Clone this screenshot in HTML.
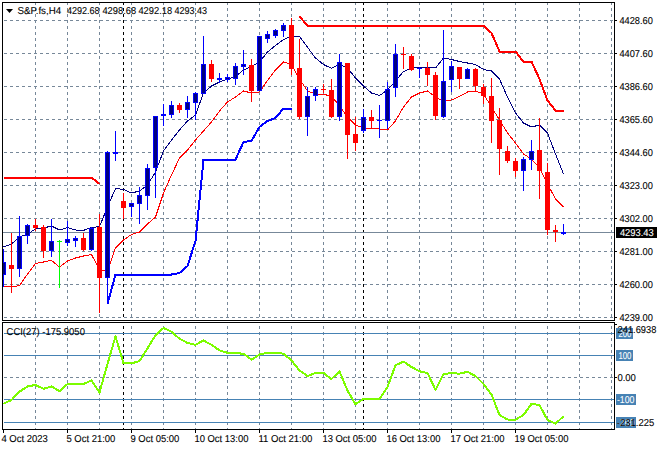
<!DOCTYPE html><html><head><meta charset="utf-8"><style>html,body{margin:0;padding:0;background:#fff;}svg{display:block;}text{font-family:"Liberation Sans",sans-serif;}</style></head><body>
<svg width="660" height="450" viewBox="0 0 660 450">
<rect x="0" y="0" width="660" height="450" fill="#fff"/>
<defs><clipPath id="cm"><rect x="3" y="3" width="611" height="317"/></clipPath><clipPath id="cs"><rect x="3" y="323" width="611" height="106"/></clipPath></defs>
<g shape-rendering="crispEdges">
<line x1="3" y1="20.5" x2="614" y2="20.5" stroke="#778899" stroke-width="1" stroke-dasharray="3 3" stroke-dashoffset="-1"/>
<line x1="3" y1="53.5" x2="614" y2="53.5" stroke="#778899" stroke-width="1" stroke-dasharray="3 3" stroke-dashoffset="-1"/>
<line x1="3" y1="86.5" x2="614" y2="86.5" stroke="#778899" stroke-width="1" stroke-dasharray="3 3" stroke-dashoffset="-1"/>
<line x1="3" y1="119.5" x2="614" y2="119.5" stroke="#778899" stroke-width="1" stroke-dasharray="3 3" stroke-dashoffset="-1"/>
<line x1="3" y1="152.5" x2="614" y2="152.5" stroke="#778899" stroke-width="1" stroke-dasharray="3 3" stroke-dashoffset="-1"/>
<line x1="3" y1="185.5" x2="614" y2="185.5" stroke="#778899" stroke-width="1" stroke-dasharray="3 3" stroke-dashoffset="-1"/>
<line x1="3" y1="218.5" x2="614" y2="218.5" stroke="#778899" stroke-width="1" stroke-dasharray="3 3" stroke-dashoffset="-1"/>
<line x1="3" y1="251.5" x2="614" y2="251.5" stroke="#778899" stroke-width="1" stroke-dasharray="3 3" stroke-dashoffset="-1"/>
<line x1="3" y1="284.5" x2="614" y2="284.5" stroke="#778899" stroke-width="1" stroke-dasharray="3 3" stroke-dashoffset="-1"/>
<line x1="3" y1="317.5" x2="614" y2="317.5" stroke="#778899" stroke-width="1" stroke-dasharray="3 3" stroke-dashoffset="-1"/>
<line x1="35.5" y1="2" x2="35.5" y2="320" stroke="#778899" stroke-width="1" stroke-dasharray="3 3"/>
<line x1="67.5" y1="2" x2="67.5" y2="320" stroke="#778899" stroke-width="1" stroke-dasharray="3 3"/>
<line x1="99.5" y1="2" x2="99.5" y2="320" stroke="#778899" stroke-width="1" stroke-dasharray="3 3"/>
<line x1="131.5" y1="2" x2="131.5" y2="320" stroke="#778899" stroke-width="1" stroke-dasharray="3 3"/>
<line x1="163.5" y1="2" x2="163.5" y2="320" stroke="#778899" stroke-width="1" stroke-dasharray="3 3"/>
<line x1="195.5" y1="2" x2="195.5" y2="320" stroke="#778899" stroke-width="1" stroke-dasharray="3 3"/>
<line x1="227.5" y1="2" x2="227.5" y2="320" stroke="#778899" stroke-width="1" stroke-dasharray="3 3"/>
<line x1="259.5" y1="2" x2="259.5" y2="320" stroke="#778899" stroke-width="1" stroke-dasharray="3 3"/>
<line x1="291.5" y1="2" x2="291.5" y2="320" stroke="#778899" stroke-width="1" stroke-dasharray="3 3"/>
<line x1="323.5" y1="2" x2="323.5" y2="320" stroke="#778899" stroke-width="1" stroke-dasharray="3 3"/>
<line x1="355.5" y1="2" x2="355.5" y2="320" stroke="#778899" stroke-width="1" stroke-dasharray="3 3"/>
<line x1="387.5" y1="2" x2="387.5" y2="320" stroke="#778899" stroke-width="1" stroke-dasharray="3 3"/>
<line x1="419.5" y1="2" x2="419.5" y2="320" stroke="#778899" stroke-width="1" stroke-dasharray="3 3"/>
<line x1="451.5" y1="2" x2="451.5" y2="320" stroke="#778899" stroke-width="1" stroke-dasharray="3 3"/>
<line x1="483.5" y1="2" x2="483.5" y2="320" stroke="#778899" stroke-width="1" stroke-dasharray="3 3"/>
<line x1="515.5" y1="2" x2="515.5" y2="320" stroke="#778899" stroke-width="1" stroke-dasharray="3 3"/>
<line x1="547.5" y1="2" x2="547.5" y2="320" stroke="#778899" stroke-width="1" stroke-dasharray="3 3"/>
<line x1="579.5" y1="2" x2="579.5" y2="320" stroke="#778899" stroke-width="1" stroke-dasharray="3 3"/>
<line x1="611.5" y1="2" x2="611.5" y2="320" stroke="#778899" stroke-width="1" stroke-dasharray="3 3"/>
<line x1="35.5" y1="322" x2="35.5" y2="429" stroke="#778899" stroke-width="1" stroke-dasharray="3 3" stroke-dashoffset="2"/>
<line x1="67.5" y1="322" x2="67.5" y2="429" stroke="#778899" stroke-width="1" stroke-dasharray="3 3" stroke-dashoffset="2"/>
<line x1="99.5" y1="322" x2="99.5" y2="429" stroke="#778899" stroke-width="1" stroke-dasharray="3 3" stroke-dashoffset="2"/>
<line x1="131.5" y1="322" x2="131.5" y2="429" stroke="#778899" stroke-width="1" stroke-dasharray="3 3" stroke-dashoffset="2"/>
<line x1="163.5" y1="322" x2="163.5" y2="429" stroke="#778899" stroke-width="1" stroke-dasharray="3 3" stroke-dashoffset="2"/>
<line x1="195.5" y1="322" x2="195.5" y2="429" stroke="#778899" stroke-width="1" stroke-dasharray="3 3" stroke-dashoffset="2"/>
<line x1="227.5" y1="322" x2="227.5" y2="429" stroke="#778899" stroke-width="1" stroke-dasharray="3 3" stroke-dashoffset="2"/>
<line x1="259.5" y1="322" x2="259.5" y2="429" stroke="#778899" stroke-width="1" stroke-dasharray="3 3" stroke-dashoffset="2"/>
<line x1="291.5" y1="322" x2="291.5" y2="429" stroke="#778899" stroke-width="1" stroke-dasharray="3 3" stroke-dashoffset="2"/>
<line x1="323.5" y1="322" x2="323.5" y2="429" stroke="#778899" stroke-width="1" stroke-dasharray="3 3" stroke-dashoffset="2"/>
<line x1="355.5" y1="322" x2="355.5" y2="429" stroke="#778899" stroke-width="1" stroke-dasharray="3 3" stroke-dashoffset="2"/>
<line x1="387.5" y1="322" x2="387.5" y2="429" stroke="#778899" stroke-width="1" stroke-dasharray="3 3" stroke-dashoffset="2"/>
<line x1="419.5" y1="322" x2="419.5" y2="429" stroke="#778899" stroke-width="1" stroke-dasharray="3 3" stroke-dashoffset="2"/>
<line x1="451.5" y1="322" x2="451.5" y2="429" stroke="#778899" stroke-width="1" stroke-dasharray="3 3" stroke-dashoffset="2"/>
<line x1="483.5" y1="322" x2="483.5" y2="429" stroke="#778899" stroke-width="1" stroke-dasharray="3 3" stroke-dashoffset="2"/>
<line x1="515.5" y1="322" x2="515.5" y2="429" stroke="#778899" stroke-width="1" stroke-dasharray="3 3" stroke-dashoffset="2"/>
<line x1="547.5" y1="322" x2="547.5" y2="429" stroke="#778899" stroke-width="1" stroke-dasharray="3 3" stroke-dashoffset="2"/>
<line x1="579.5" y1="322" x2="579.5" y2="429" stroke="#778899" stroke-width="1" stroke-dasharray="3 3" stroke-dashoffset="2"/>
<line x1="611.5" y1="322" x2="611.5" y2="429" stroke="#778899" stroke-width="1" stroke-dasharray="3 3" stroke-dashoffset="2"/>
<line x1="3" y1="377.5" x2="614" y2="377.5" stroke="#778899" stroke-width="1" stroke-dasharray="3 3" stroke-dashoffset="-1"/>
<line x1="123.5" y1="2" x2="123.5" y2="320" stroke="#000" stroke-width="1" stroke-dasharray="3 3"/>
<line x1="123.5" y1="322" x2="123.5" y2="429" stroke="#000" stroke-width="1" stroke-dasharray="3 3" stroke-dashoffset="2"/>
<line x1="363.5" y1="2" x2="363.5" y2="320" stroke="#000" stroke-width="1" stroke-dasharray="3 3"/>
<line x1="363.5" y1="322" x2="363.5" y2="429" stroke="#000" stroke-width="1" stroke-dasharray="3 3" stroke-dashoffset="2"/>
<rect x="4" y="333" width="610" height="1" fill="#4682B4"/>
<rect x="4" y="355" width="610" height="1" fill="#4682B4"/>
<rect x="4" y="399" width="610" height="1" fill="#4682B4"/>
<rect x="4" y="422" width="610" height="1" fill="#4682B4"/>
<rect x="3" y="232" width="611" height="1" fill="#778899"/>
</g>
<g clip-path="url(#cm)">
<polyline points="3.5,286 11.5,287 19.5,285.6 27.5,274 35.5,263.6 43.5,262 51.5,260.4 59.5,267 67.5,261 75.5,258 83.5,256 91.5,254.5 99.5,270 107.5,271 115.5,248 123.5,240 131.5,234.5 139.5,232 147.5,224 155.5,217 163.5,193 171.5,175 179.5,158 187.5,150 195.5,140 203.5,131 211.5,122 219.5,111 227.5,102 235.5,97 243.5,91 251.5,93 259.5,92 267.5,80.5 275.5,70 283.5,62 291.5,64.5 299.5,79 307.5,91 315.5,94 323.5,94.4 331.5,96 339.5,106 347.5,117 355.5,125 363.5,128 371.5,128 379.5,129 387.5,130 395.5,121 403.5,107 411.5,97 419.5,93 427.5,91 435.5,97 443.5,101.5 451.5,100 459.5,96.5 467.5,92 475.5,91 483.5,94 491.5,107 499.5,120 507.5,133 515.5,143 523.5,154 531.5,159 539.5,168 547.5,184 555.5,199 563.5,207" fill="none" stroke="#FF0000" stroke-width="1" stroke-linejoin="round" shape-rendering="crispEdges"/>
<polyline points="3.5,247 11.5,244 19.5,237 27.5,234 35.5,229 43.5,228 51.5,226 59.5,230 67.5,227.6 75.5,230 83.5,230.4 91.5,227.5 99.5,226.7 107.5,207 115.5,188.5 123.5,189.5 131.5,193 139.5,191 147.5,185 155.5,172 163.5,151 171.5,140 179.5,130 187.5,121 195.5,115 203.5,93 211.5,86 219.5,82 227.5,79 235.5,76.5 243.5,70 251.5,66.5 259.5,62 267.5,52 275.5,45.5 283.5,39.5 291.5,36 299.5,36.5 307.5,47.3 315.5,58 323.5,64.5 331.5,68.4 339.5,64.2 347.5,68 355.5,78 363.5,86 371.5,93 379.5,95.6 387.5,90 395.5,81 403.5,71.5 411.5,68 419.5,67.3 427.5,67.5 435.5,68 443.5,58 451.5,59.5 459.5,61.5 467.5,63 475.5,64.5 483.5,69.5 491.5,71 499.5,79 507.5,97 515.5,113 523.5,123 531.5,127 539.5,125 547.5,133 555.5,154 563.5,174" fill="none" stroke="#000080" stroke-width="1" stroke-linejoin="round" shape-rendering="crispEdges"/>
<polyline points="107.5,304 115.5,274.5 123.5,274.5 131.5,274.5 139.5,274.5 147.5,274.5 155.5,274.5 163.5,274.5 171.5,274.5 179.5,273 187.5,266 195.5,241 203.5,159.5 211.5,159.5 219.5,159.5 227.5,159.5 235.5,159.5 243.5,142 251.5,141 259.5,127 267.5,121 275.5,118 283.5,108.5 291.5,108.5" fill="none" stroke="#0000FF" stroke-width="2" stroke-linejoin="round" shape-rendering="crispEdges"/>
<polyline points="3.5,177.5 11.5,177.5 19.5,177.5 27.5,177.5 35.5,177.5 43.5,177.5 51.5,177.5 59.5,177.5 67.5,177.5 75.5,177.5 83.5,177.5 91.5,177.5 99.5,184" fill="none" stroke="#FF0000" stroke-width="2" stroke-linejoin="round" shape-rendering="crispEdges"/>
<polyline points="299.5,16.5 307.5,25.7 315.5,25.7 323.5,25.7 331.5,25.7 339.5,25.7 347.5,25.7 355.5,25.7 363.5,25.7 371.5,25.7 379.5,25.7 387.5,25.7 395.5,25.7 403.5,25.7 411.5,25.7 419.5,25.7 427.5,25.7 435.5,25.7 443.5,25.7 451.5,25.7 459.5,25.7 467.5,25.7 475.5,25.7 483.5,25.7 491.5,33 499.5,51.5 507.5,51.5 515.5,51.5 523.5,61.7 531.5,61.7 539.5,79 547.5,100.5 555.5,110.6 563.5,110.6" fill="none" stroke="#FF0000" stroke-width="2" stroke-linejoin="round" shape-rendering="crispEdges"/>
<g shape-rendering="crispEdges">
<rect x="3" y="249" width="1" height="38" fill="#0000FF"/>
<rect x="1" y="262" width="5" height="13" fill="#0000FF"/>
<rect x="2" y="263" width="3" height="11" fill="#000080"/>
<rect x="11" y="233" width="1" height="60" fill="#FF0000"/>
<rect x="9" y="265" width="5" height="4" fill="#FF0000"/>
<rect x="19" y="216" width="1" height="61" fill="#0000FF"/>
<rect x="17" y="236" width="5" height="33" fill="#0000FF"/>
<rect x="18" y="237" width="3" height="31" fill="#000080"/>
<rect x="27" y="224" width="1" height="20" fill="#0000FF"/>
<rect x="25" y="225" width="5" height="11" fill="#0000FF"/>
<rect x="26" y="226" width="3" height="9" fill="#000080"/>
<rect x="35" y="219" width="1" height="12" fill="#FF0000"/>
<rect x="33" y="225" width="5" height="3" fill="#FF0000"/>
<rect x="43" y="225" width="1" height="33" fill="#FF0000"/>
<rect x="41" y="227" width="5" height="24" fill="#FF0000"/>
<rect x="51" y="219" width="1" height="38" fill="#0000FF"/>
<rect x="49" y="241" width="5" height="10" fill="#0000FF"/>
<rect x="50" y="242" width="3" height="8" fill="#000080"/>
<rect x="59" y="240" width="1" height="48" fill="#00FF00"/>
<rect x="57" y="241" width="5" height="1" fill="#00FF00"/>
<rect x="67" y="221" width="1" height="25" fill="#0000FF"/>
<rect x="65" y="239" width="5" height="4" fill="#0000FF"/>
<rect x="66" y="240" width="3" height="2" fill="#000080"/>
<rect x="75" y="236" width="1" height="11" fill="#0000FF"/>
<rect x="73" y="238" width="5" height="3" fill="#0000FF"/>
<rect x="74" y="239" width="3" height="1" fill="#000080"/>
<rect x="83" y="233" width="1" height="18" fill="#FF0000"/>
<rect x="81" y="238" width="5" height="12" fill="#FF0000"/>
<rect x="91" y="227" width="1" height="24" fill="#0000FF"/>
<rect x="89" y="228" width="5" height="22" fill="#0000FF"/>
<rect x="90" y="229" width="3" height="20" fill="#000080"/>
<rect x="99" y="214" width="1" height="99" fill="#FF0000"/>
<rect x="97" y="227" width="5" height="51" fill="#FF0000"/>
<rect x="107" y="151" width="1" height="149" fill="#0000FF"/>
<rect x="105" y="152" width="5" height="126" fill="#0000FF"/>
<rect x="106" y="153" width="3" height="124" fill="#000080"/>
<rect x="115" y="131" width="1" height="30" fill="#0000FF"/>
<rect x="113" y="152" width="5" height="2" fill="#0000FF"/>
<rect x="123" y="193" width="1" height="26" fill="#FF0000"/>
<rect x="121" y="201" width="5" height="7" fill="#FF0000"/>
<rect x="131" y="203" width="1" height="14" fill="#0000FF"/>
<rect x="129" y="203" width="5" height="4" fill="#0000FF"/>
<rect x="130" y="204" width="3" height="2" fill="#000080"/>
<rect x="139" y="187" width="1" height="37" fill="#0000FF"/>
<rect x="137" y="195" width="5" height="9" fill="#0000FF"/>
<rect x="138" y="196" width="3" height="7" fill="#000080"/>
<rect x="147" y="164" width="1" height="46" fill="#0000FF"/>
<rect x="145" y="168" width="5" height="28" fill="#0000FF"/>
<rect x="146" y="169" width="3" height="26" fill="#000080"/>
<rect x="155" y="116" width="1" height="82" fill="#0000FF"/>
<rect x="153" y="116" width="5" height="52" fill="#0000FF"/>
<rect x="154" y="117" width="3" height="50" fill="#000080"/>
<rect x="163" y="104" width="1" height="22" fill="#0000FF"/>
<rect x="161" y="114" width="5" height="2" fill="#0000FF"/>
<rect x="171" y="101" width="1" height="17" fill="#0000FF"/>
<rect x="169" y="105" width="5" height="10" fill="#0000FF"/>
<rect x="170" y="106" width="3" height="8" fill="#000080"/>
<rect x="179" y="103" width="1" height="10" fill="#FF0000"/>
<rect x="177" y="105" width="5" height="5" fill="#FF0000"/>
<rect x="187" y="96" width="1" height="22" fill="#0000FF"/>
<rect x="185" y="102" width="5" height="8" fill="#0000FF"/>
<rect x="186" y="103" width="3" height="6" fill="#000080"/>
<rect x="195" y="92" width="1" height="28" fill="#0000FF"/>
<rect x="193" y="93" width="5" height="10" fill="#0000FF"/>
<rect x="194" y="94" width="3" height="8" fill="#000080"/>
<rect x="203" y="36" width="1" height="58" fill="#0000FF"/>
<rect x="201" y="64" width="5" height="30" fill="#0000FF"/>
<rect x="202" y="65" width="3" height="28" fill="#000080"/>
<rect x="211" y="60" width="1" height="22" fill="#FF0000"/>
<rect x="209" y="64" width="5" height="15" fill="#FF0000"/>
<rect x="219" y="73" width="1" height="10" fill="#0000FF"/>
<rect x="217" y="78" width="5" height="2" fill="#0000FF"/>
<rect x="227" y="74" width="1" height="8" fill="#0000FF"/>
<rect x="225" y="77" width="5" height="3" fill="#0000FF"/>
<rect x="226" y="78" width="3" height="1" fill="#000080"/>
<rect x="235" y="63" width="1" height="22" fill="#0000FF"/>
<rect x="233" y="66" width="5" height="13" fill="#0000FF"/>
<rect x="234" y="67" width="3" height="11" fill="#000080"/>
<rect x="243" y="50" width="1" height="25" fill="#0000FF"/>
<rect x="241" y="64" width="5" height="3" fill="#0000FF"/>
<rect x="242" y="65" width="3" height="1" fill="#000080"/>
<rect x="251" y="59" width="1" height="43" fill="#FF0000"/>
<rect x="249" y="65" width="5" height="26" fill="#FF0000"/>
<rect x="259" y="36" width="1" height="55" fill="#0000FF"/>
<rect x="257" y="36" width="5" height="55" fill="#0000FF"/>
<rect x="258" y="37" width="3" height="53" fill="#000080"/>
<rect x="267" y="31" width="1" height="12" fill="#0000FF"/>
<rect x="265" y="34" width="5" height="5" fill="#0000FF"/>
<rect x="266" y="35" width="3" height="3" fill="#000080"/>
<rect x="275" y="29" width="1" height="9" fill="#0000FF"/>
<rect x="273" y="30" width="5" height="6" fill="#0000FF"/>
<rect x="274" y="31" width="3" height="4" fill="#000080"/>
<rect x="283" y="23" width="1" height="14" fill="#0000FF"/>
<rect x="281" y="25" width="5" height="6" fill="#0000FF"/>
<rect x="282" y="26" width="3" height="4" fill="#000080"/>
<rect x="291" y="18" width="1" height="57" fill="#FF0000"/>
<rect x="289" y="25" width="5" height="44" fill="#FF0000"/>
<rect x="299" y="39" width="1" height="80" fill="#FF0000"/>
<rect x="297" y="68" width="5" height="49" fill="#FF0000"/>
<rect x="307" y="87" width="1" height="49" fill="#0000FF"/>
<rect x="305" y="96" width="5" height="21" fill="#0000FF"/>
<rect x="306" y="97" width="3" height="19" fill="#000080"/>
<rect x="315" y="87" width="1" height="14" fill="#0000FF"/>
<rect x="313" y="89" width="5" height="7" fill="#0000FF"/>
<rect x="314" y="90" width="3" height="5" fill="#000080"/>
<rect x="323" y="84" width="1" height="9" fill="#FF0000"/>
<rect x="321" y="89" width="5" height="1" fill="#FF0000"/>
<rect x="331" y="79" width="1" height="39" fill="#FF0000"/>
<rect x="329" y="90" width="5" height="27" fill="#FF0000"/>
<rect x="339" y="54" width="1" height="67" fill="#0000FF"/>
<rect x="337" y="62" width="5" height="55" fill="#0000FF"/>
<rect x="338" y="63" width="3" height="53" fill="#000080"/>
<rect x="347" y="63" width="1" height="96" fill="#FF0000"/>
<rect x="345" y="63" width="5" height="72" fill="#FF0000"/>
<rect x="355" y="117" width="1" height="34" fill="#FF0000"/>
<rect x="353" y="134" width="5" height="9" fill="#FF0000"/>
<rect x="363" y="109" width="1" height="24" fill="#0000FF"/>
<rect x="361" y="117" width="5" height="14" fill="#0000FF"/>
<rect x="362" y="118" width="3" height="12" fill="#000080"/>
<rect x="371" y="110" width="1" height="18" fill="#FF0000"/>
<rect x="369" y="117" width="5" height="4" fill="#FF0000"/>
<rect x="379" y="105" width="1" height="33" fill="#0000FF"/>
<rect x="377" y="120" width="5" height="1" fill="#0000FF"/>
<rect x="387" y="82" width="1" height="47" fill="#0000FF"/>
<rect x="385" y="89" width="5" height="32" fill="#0000FF"/>
<rect x="386" y="90" width="3" height="30" fill="#000080"/>
<rect x="395" y="44" width="1" height="53" fill="#0000FF"/>
<rect x="393" y="54" width="5" height="34" fill="#0000FF"/>
<rect x="394" y="55" width="3" height="32" fill="#000080"/>
<rect x="403" y="47" width="1" height="22" fill="#FF0000"/>
<rect x="401" y="54" width="5" height="1" fill="#FF0000"/>
<rect x="411" y="54" width="1" height="17" fill="#FF0000"/>
<rect x="409" y="56" width="5" height="14" fill="#FF0000"/>
<rect x="419" y="67" width="1" height="11" fill="#0000FF"/>
<rect x="417" y="68" width="5" height="1" fill="#0000FF"/>
<rect x="427" y="62" width="1" height="24" fill="#FF0000"/>
<rect x="425" y="68" width="5" height="7" fill="#FF0000"/>
<rect x="435" y="72" width="1" height="48" fill="#FF0000"/>
<rect x="433" y="75" width="5" height="41" fill="#FF0000"/>
<rect x="443" y="30" width="1" height="88" fill="#0000FF"/>
<rect x="441" y="81" width="5" height="36" fill="#0000FF"/>
<rect x="442" y="82" width="3" height="34" fill="#000080"/>
<rect x="451" y="61" width="1" height="31" fill="#0000FF"/>
<rect x="449" y="66" width="5" height="14" fill="#0000FF"/>
<rect x="450" y="67" width="3" height="12" fill="#000080"/>
<rect x="459" y="67" width="1" height="22" fill="#FF0000"/>
<rect x="457" y="67" width="5" height="12" fill="#FF0000"/>
<rect x="467" y="68" width="1" height="11" fill="#0000FF"/>
<rect x="465" y="69" width="5" height="10" fill="#0000FF"/>
<rect x="466" y="70" width="3" height="8" fill="#000080"/>
<rect x="475" y="68" width="1" height="22" fill="#FF0000"/>
<rect x="473" y="69" width="5" height="17" fill="#FF0000"/>
<rect x="483" y="84" width="1" height="20" fill="#FF0000"/>
<rect x="481" y="87" width="5" height="9" fill="#FF0000"/>
<rect x="491" y="78" width="1" height="65" fill="#FF0000"/>
<rect x="489" y="96" width="5" height="25" fill="#FF0000"/>
<rect x="499" y="108" width="1" height="67" fill="#FF0000"/>
<rect x="497" y="120" width="5" height="29" fill="#FF0000"/>
<rect x="507" y="146" width="1" height="17" fill="#FF0000"/>
<rect x="505" y="151" width="5" height="10" fill="#FF0000"/>
<rect x="515" y="158" width="1" height="19" fill="#FF0000"/>
<rect x="513" y="161" width="5" height="10" fill="#FF0000"/>
<rect x="523" y="157" width="1" height="34" fill="#0000FF"/>
<rect x="521" y="159" width="5" height="12" fill="#0000FF"/>
<rect x="522" y="160" width="3" height="10" fill="#000080"/>
<rect x="531" y="140" width="1" height="30" fill="#0000FF"/>
<rect x="529" y="151" width="5" height="9" fill="#0000FF"/>
<rect x="530" y="152" width="3" height="7" fill="#000080"/>
<rect x="539" y="118" width="1" height="81" fill="#FF0000"/>
<rect x="537" y="150" width="5" height="21" fill="#FF0000"/>
<rect x="547" y="163" width="1" height="72" fill="#FF0000"/>
<rect x="545" y="172" width="5" height="58" fill="#FF0000"/>
<rect x="555" y="225" width="1" height="17" fill="#FF0000"/>
<rect x="553" y="230" width="5" height="2" fill="#FF0000"/>
<rect x="563" y="224" width="1" height="11" fill="#0000FF"/>
<rect x="561" y="232" width="5" height="2" fill="#0000FF"/>
</g></g>
<g clip-path="url(#cs)">
<polyline points="3.5,403.7 11.5,400 19.5,391.7 27.5,386.4 35.5,385 43.5,388.8 51.5,386.4 59.5,391.2 67.5,384 75.5,384 83.5,384 91.5,380.4 99.5,392.5 107.5,364 115.5,336.4 123.5,363.3 131.5,363.3 139.5,361.2 147.5,348.4 155.5,335.2 163.5,328 171.5,331.6 179.5,338.8 187.5,342.9 195.5,344.8 203.5,340.5 211.5,344.8 219.5,350.4 227.5,352.8 235.5,353.2 243.5,353.7 251.5,359.7 259.5,354.4 267.5,352.8 275.5,352.8 283.5,353.7 291.5,360.4 299.5,370.5 307.5,376 315.5,373 323.5,373 331.5,379 339.5,371.3 347.5,390.5 355.5,404.2 363.5,399 371.5,399 379.5,399 387.5,387 395.5,365.3 403.5,361.6 411.5,367 419.5,371.3 427.5,373 435.5,389.8 443.5,374.2 451.5,373 459.5,373.7 467.5,371.8 475.5,376 483.5,384 491.5,394.5 499.5,415 507.5,419.5 515.5,419.7 523.5,415 531.5,403.8 539.5,405 547.5,420 555.5,423.7 563.5,416.3" fill="none" stroke="#7CFC00" stroke-width="2" stroke-linejoin="round" shape-rendering="crispEdges"/>
</g>
<g shape-rendering="crispEdges" fill="#000">
<rect x="2" y="2" width="613" height="1"/><rect x="2" y="320" width="613" height="1"/><rect x="2" y="2" width="1" height="319"/><rect x="614" y="2" width="1" height="319"/>
<rect x="2" y="322" width="613" height="1"/><rect x="2" y="429" width="613" height="1"/><rect x="2" y="322" width="1" height="108"/><rect x="614" y="322" width="1" height="108"/>
<rect x="615" y="20" width="2" height="1"/>
<rect x="615" y="53" width="2" height="1"/>
<rect x="615" y="86" width="2" height="1"/>
<rect x="615" y="119" width="2" height="1"/>
<rect x="615" y="152" width="2" height="1"/>
<rect x="615" y="185" width="2" height="1"/>
<rect x="615" y="218" width="2" height="1"/>
<rect x="615" y="251" width="2" height="1"/>
<rect x="615" y="284" width="2" height="1"/>
<rect x="615" y="317" width="2" height="1"/>
<rect x="615" y="324" width="2" height="1"/>
<rect x="615" y="377" width="2" height="1"/>
<rect x="3" y="430" width="1" height="3"/>
<rect x="67" y="430" width="1" height="3"/>
<rect x="131" y="430" width="1" height="3"/>
<rect x="195" y="430" width="1" height="3"/>
<rect x="259" y="430" width="1" height="3"/>
<rect x="323" y="430" width="1" height="3"/>
<rect x="387" y="430" width="1" height="3"/>
<rect x="451" y="430" width="1" height="3"/>
<rect x="515" y="430" width="1" height="3"/>
</g>
<rect x="616" y="227" width="41" height="11" fill="#000" shape-rendering="crispEdges"/>
<rect x="616" y="328" width="17" height="11" fill="#4682B4" shape-rendering="crispEdges"/>
<rect x="616" y="350" width="17" height="11" fill="#4682B4" shape-rendering="crispEdges"/>
<rect x="616" y="394" width="20" height="11" fill="#4682B4" shape-rendering="crispEdges"/>
<rect x="616" y="417" width="20" height="11" fill="#4682B4" shape-rendering="crispEdges"/>
<path d="M6 9 L13 9 L9.5 13 Z" fill="#000"/>
<g font-size="10px" style="text-rendering:geometricPrecision">
<text x="619.40" y="24" fill="#000" stroke="#000" stroke-width="0.1" textLength="33.50" lengthAdjust="spacingAndGlyphs">4428.60</text>
<text x="619.40" y="57" fill="#000" stroke="#000" stroke-width="0.1" textLength="33.50" lengthAdjust="spacingAndGlyphs">4407.60</text>
<text x="619.40" y="90" fill="#000" stroke="#000" stroke-width="0.1" textLength="33.50" lengthAdjust="spacingAndGlyphs">4386.60</text>
<text x="619.40" y="123" fill="#000" stroke="#000" stroke-width="0.1" textLength="33.50" lengthAdjust="spacingAndGlyphs">4365.60</text>
<text x="619.40" y="156" fill="#000" stroke="#000" stroke-width="0.1" textLength="33.50" lengthAdjust="spacingAndGlyphs">4344.60</text>
<text x="619.40" y="189" fill="#000" stroke="#000" stroke-width="0.1" textLength="33.50" lengthAdjust="spacingAndGlyphs">4323.00</text>
<text x="619.40" y="222" fill="#000" stroke="#000" stroke-width="0.1" textLength="33.50" lengthAdjust="spacingAndGlyphs">4302.00</text>
<text x="619.40" y="255" fill="#000" stroke="#000" stroke-width="0.1" textLength="33.50" lengthAdjust="spacingAndGlyphs">4281.00</text>
<text x="619.40" y="288" fill="#000" stroke="#000" stroke-width="0.1" textLength="33.50" lengthAdjust="spacingAndGlyphs">4260.00</text>
<text x="619.40" y="321" fill="#000" stroke="#000" stroke-width="0.1" textLength="33.50" lengthAdjust="spacingAndGlyphs">4239.00</text>
<text x="619.90" y="236" fill="#fff" stroke="#fff" stroke-width="0.1" textLength="33.80" lengthAdjust="spacingAndGlyphs">4293.43</text>
<text x="618.40" y="337" fill="#fff" stroke="#fff" stroke-width="0.1" textLength="13.00" lengthAdjust="spacingAndGlyphs">200</text>
<text x="618.40" y="359" fill="#fff" stroke="#fff" stroke-width="0.1" textLength="13.00" lengthAdjust="spacingAndGlyphs">100</text>
<text x="616.90" y="403" fill="#fff" stroke="#fff" stroke-width="0.1" textLength="17.50" lengthAdjust="spacingAndGlyphs">-100</text>
<text x="617.60" y="333" fill="#000" stroke="#000" stroke-width="0.1" textLength="38.80" lengthAdjust="spacingAndGlyphs">241.6938</text>
<text x="617.40" y="381" fill="#000" stroke="#000" stroke-width="0.1" textLength="18.50" lengthAdjust="spacingAndGlyphs">0.00</text>
<text x="616.90" y="426" fill="#fff" stroke="#fff" stroke-width="0.1" textLength="17.50" lengthAdjust="spacingAndGlyphs">-200</text>
<text x="616.80" y="426" fill="#000" stroke="#000" stroke-width="0.1" textLength="37.40" lengthAdjust="spacingAndGlyphs">-231.225</text>
<text x="17.40" y="14" fill="#000" stroke="#000" stroke-width="0.1" textLength="43.80" lengthAdjust="spacingAndGlyphs">S&amp;P.fs,H4</text>
<text x="66.90" y="14" fill="#000" stroke="#000" stroke-width="0.1" textLength="32.70" lengthAdjust="spacingAndGlyphs">4292.68</text>
<text x="102.40" y="14" fill="#000" stroke="#000" stroke-width="0.1" textLength="33.80" lengthAdjust="spacingAndGlyphs">4298.68</text>
<text x="138.40" y="14" fill="#000" stroke="#000" stroke-width="0.1" textLength="33.70" lengthAdjust="spacingAndGlyphs">4292.18</text>
<text x="174.40" y="14" fill="#000" stroke="#000" stroke-width="0.1" textLength="32.70" lengthAdjust="spacingAndGlyphs">4293.43</text>
<text x="6.60" y="335" fill="#000" stroke="#000" stroke-width="0.1" textLength="78.30" lengthAdjust="spacingAndGlyphs">CCI(27) -175.9050</text>
<text x="1.40" y="442" fill="#000" stroke="#000" stroke-width="0.1" textLength="46.50" lengthAdjust="spacingAndGlyphs">4 Oct 2023</text>
<text x="66.40" y="442" fill="#000" stroke="#000" stroke-width="0.1" textLength="49.00" lengthAdjust="spacingAndGlyphs">5 Oct 21:00</text>
<text x="130.40" y="442" fill="#000" stroke="#000" stroke-width="0.1" textLength="49.00" lengthAdjust="spacingAndGlyphs">9 Oct 05:00</text>
<text x="194.40" y="442" fill="#000" stroke="#000" stroke-width="0.1" textLength="54.00" lengthAdjust="spacingAndGlyphs">10 Oct 13:00</text>
<text x="258.40" y="442" fill="#000" stroke="#000" stroke-width="0.1" textLength="54.00" lengthAdjust="spacingAndGlyphs">11 Oct 21:00</text>
<text x="322.40" y="442" fill="#000" stroke="#000" stroke-width="0.1" textLength="54.00" lengthAdjust="spacingAndGlyphs">13 Oct 05:00</text>
<text x="386.40" y="442" fill="#000" stroke="#000" stroke-width="0.1" textLength="54.00" lengthAdjust="spacingAndGlyphs">16 Oct 13:00</text>
<text x="450.40" y="442" fill="#000" stroke="#000" stroke-width="0.1" textLength="54.00" lengthAdjust="spacingAndGlyphs">17 Oct 21:00</text>
<text x="514.40" y="442" fill="#000" stroke="#000" stroke-width="0.1" textLength="54.00" lengthAdjust="spacingAndGlyphs">19 Oct 05:00</text>
</g>
</svg></body></html>
